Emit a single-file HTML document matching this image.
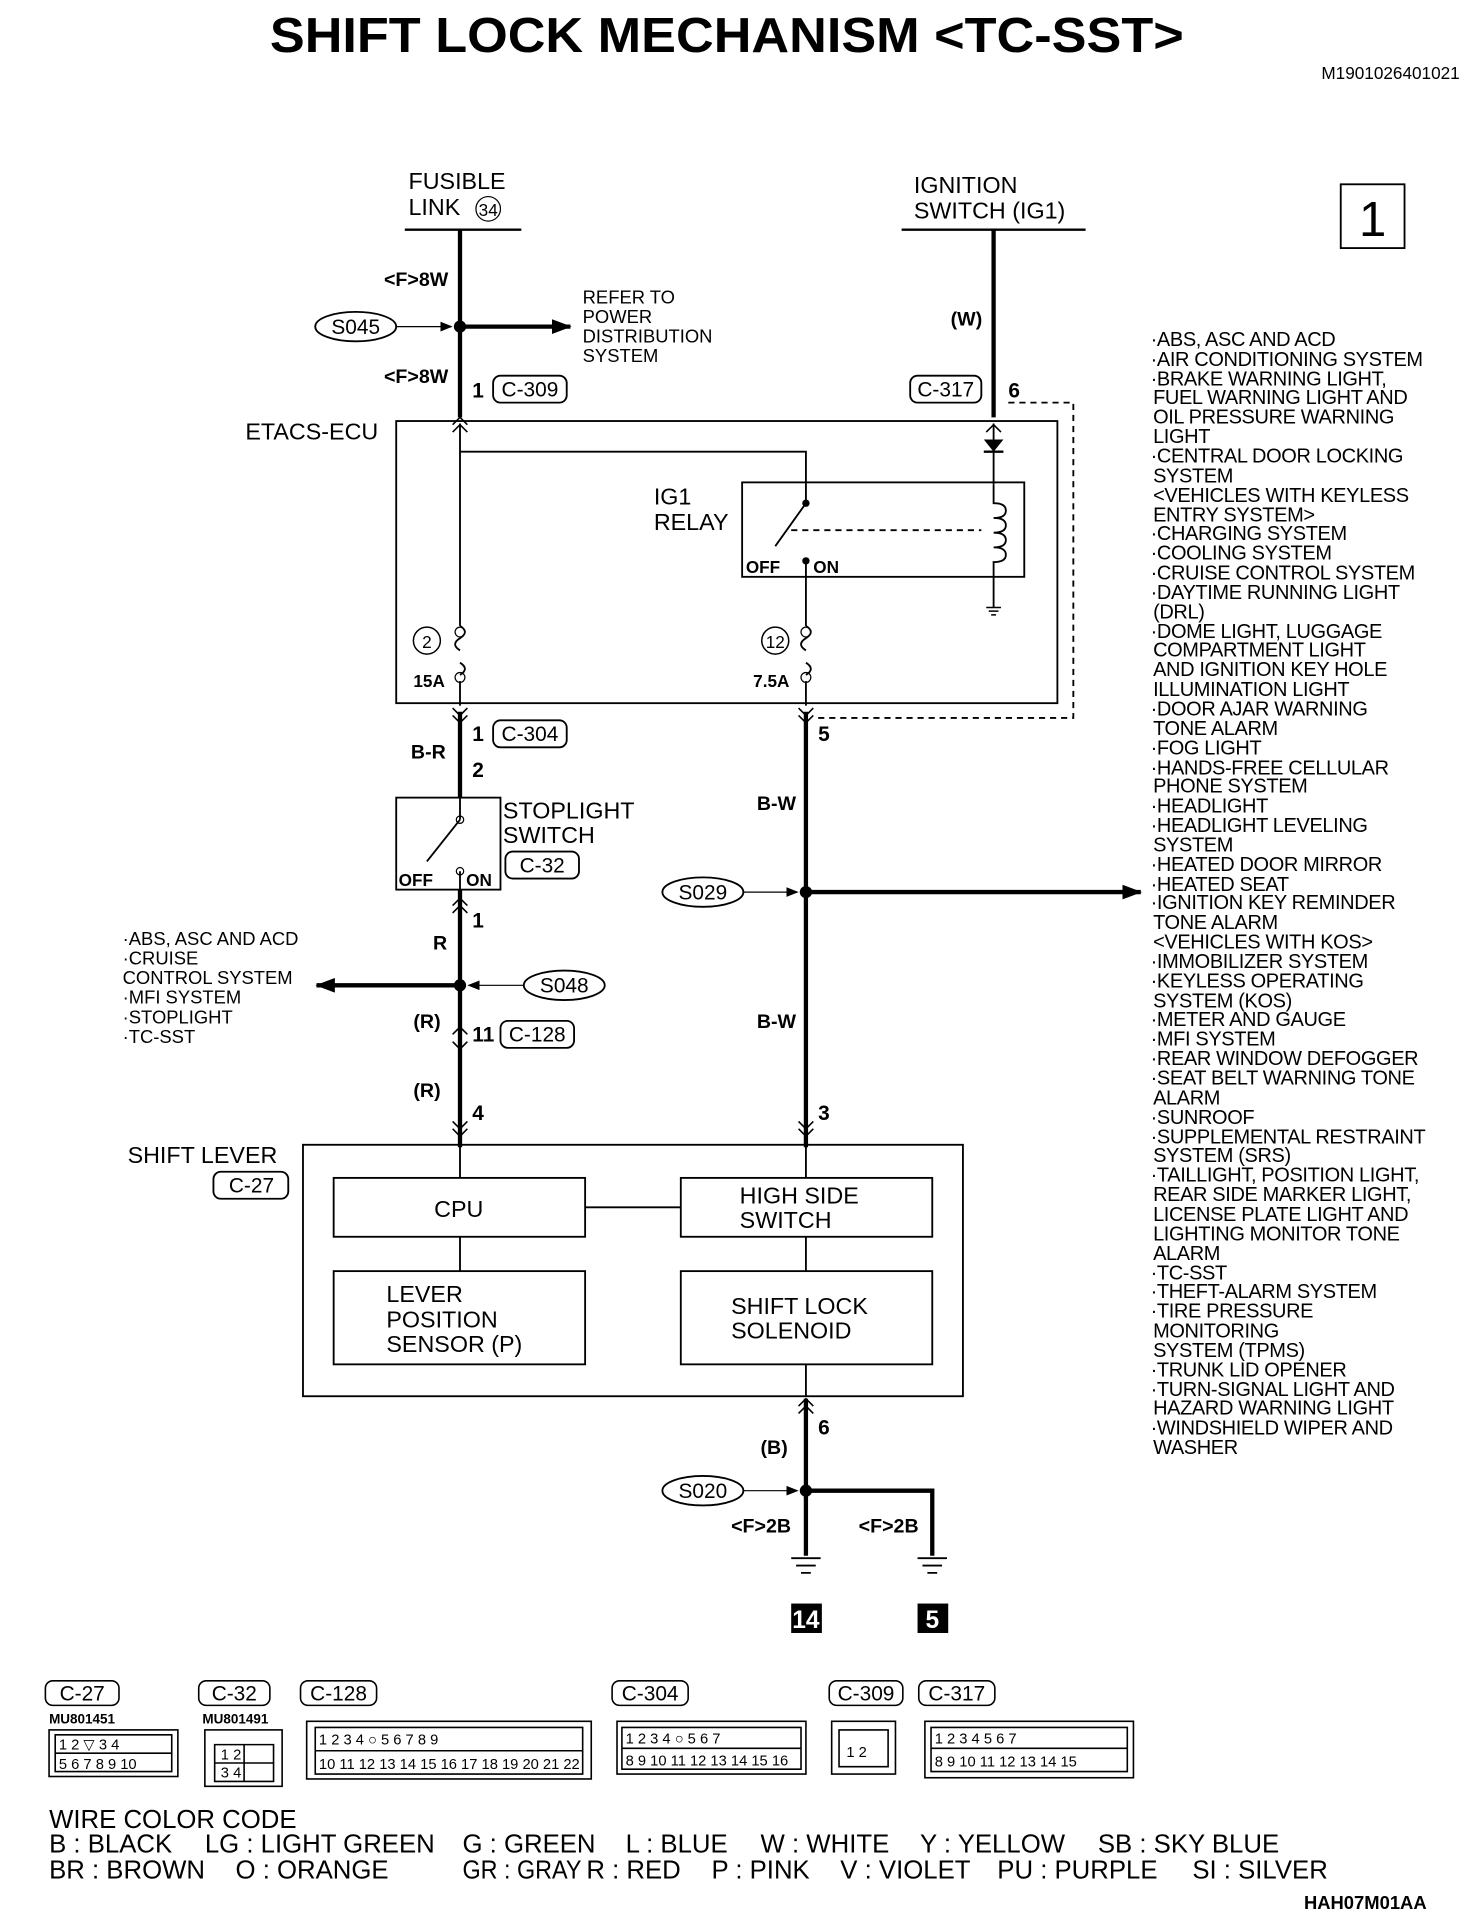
<!DOCTYPE html>
<html><head><meta charset="utf-8"><style>
html,body{margin:0;padding:0;background:#fff}
svg{display:block}
text{font-family:"Liberation Sans",sans-serif;fill:#000}
</style></head><body>
<svg width="1472" height="1924" viewBox="0 0 1200 1568" xmlns="http://www.w3.org/2000/svg">
<defs>
<marker id="ah" markerWidth="10" markerHeight="10" refX="9" refY="5" orient="auto" markerUnits="userSpaceOnUse"><path d="M0,1 L10,5 L0,9 z"/></marker>
<marker id="ahb" markerWidth="16" markerHeight="12" refX="15" refY="6" orient="auto" markerUnits="userSpaceOnUse"><path d="M0,0 L16,6 L0,12 z"/></marker>
</defs>
<text x="220" y="42" font-size="40" font-weight="bold" textLength="745" lengthAdjust="spacingAndGlyphs">SHIFT LOCK MECHANISM &lt;TC-SST&gt;</text>
<text x="1190" y="64" font-size="14" text-anchor="end">M1901026401021</text>
<rect x="1093" y="150" width="52" height="52" fill="none" stroke="#000" stroke-width="1.5"/>
<text x="1119" y="192" font-size="40" text-anchor="middle">1</text>

<g font-size="19">
<text x="333" y="154">FUSIBLE</text><text x="333" y="175">LINK</text>
<circle cx="398" cy="170" r="10" fill="none" stroke="#000"/><text x="398" y="176" font-size="14" text-anchor="middle">34</text>
<text x="745" y="157">IGNITION</text><text x="745" y="178">SWITCH (IG1)</text>
</g>
<line x1="330" y1="187" x2="425" y2="187" stroke="#000" stroke-width="2"/>
<line x1="735" y1="187" x2="885" y2="187" stroke="#000" stroke-width="2"/>

<g stroke="#000" fill="none">
<line x1="375" y1="187" x2="375" y2="340" stroke-width="3.5"/>
<line x1="375" y1="345" x2="375" y2="510" stroke-width="1.5"/>
<line x1="375" y1="555" x2="375" y2="575" stroke-width="1.5"/>
<line x1="375" y1="580" x2="375" y2="650" stroke-width="3.5"/>
<line x1="375" y1="725" x2="375" y2="935" stroke-width="3.5"/>
<line x1="375" y1="266" x2="465" y2="266" stroke-width="3.5" marker-end="url(#ahb)"/>
<line x1="375" y1="803" x2="258" y2="803" stroke-width="3.5" marker-end="url(#ahb)"/>
<line x1="810" y1="187" x2="810" y2="340" stroke-width="3.5"/>
<line x1="810" y1="345" x2="810" y2="395" stroke-width="1.5"/>
<line x1="810" y1="470" x2="810" y2="495" stroke-width="1.5"/>
<line x1="657" y1="580" x2="657" y2="935" stroke-width="3.5"/>
<line x1="657" y1="727" x2="930" y2="727" stroke-width="3.5" marker-end="url(#ahb)"/>
<line x1="657" y1="1140" x2="657" y2="1268" stroke-width="3.5"/>
<polyline points="657,1215 760,1215 760,1268" stroke-width="3.5"/>
<rect x="323" y="343" width="539" height="230" stroke-width="1.5"/>
<polyline points="375,368 657,368 657,408" stroke-width="1.5"/>
<line x1="657" y1="457" x2="657" y2="510" stroke-width="1.5"/>
<line x1="657" y1="555" x2="657" y2="575" stroke-width="1.5"/>
<rect x="605" y="393" width="230" height="77" stroke-width="1.5"/>
<line x1="657" y1="410" x2="632" y2="445" stroke-width="1.5"/>
<line x1="645" y1="432" x2="800" y2="432" stroke-width="1.5" stroke-dasharray="5,4"/>
<path d="M810,395 L810,410 q10,0 10,6 q0,6 -10,6 q10,0 10,6 q0,6 -10,6 q10,0 10,6 q0,6 -10,6 q10,0 10,6 q0,6 -10,6 L810,470" stroke-width="1.5"/>
<polyline points="822,328 875,328 875,585 665,585" stroke-width="1.5" stroke-dasharray="5,4"/>
<path d="M375,510 q8,5 0,10 q-8,5 0,10 M375,540 q8,5 0,10" stroke-width="1.5"/>
<path d="M657,510 q8,5 0,10 q-8,5 0,10 M657,540 q8,5 0,10" stroke-width="1.5"/>
<circle cx="375" cy="515" r="4"/><circle cx="375" cy="552" r="4"/>
<circle cx="657" cy="515" r="4"/><circle cx="657" cy="552" r="4"/>
<circle cx="348" cy="522" r="11" stroke-width="1.2"/><circle cx="632" cy="522" r="11" stroke-width="1.2"/>
<rect x="323" y="650" width="85" height="75" stroke-width="1.5"/>
<line x1="375" y1="650" x2="375" y2="668" stroke-width="1.5"/>
<line x1="375" y1="668" x2="348" y2="702" stroke-width="1.5"/>
<line x1="375" y1="710" x2="375" y2="725" stroke-width="1.5"/>
<circle cx="375" cy="668" r="3"/><circle cx="375" cy="710" r="3"/>
<rect x="247" y="933" width="538" height="205" stroke-width="1.5"/>
<rect x="272" y="960" width="205" height="48" stroke-width="1.5"/>
<rect x="555" y="960" width="205" height="48" stroke-width="1.5"/>
<rect x="272" y="1036" width="205" height="76" stroke-width="1.5"/>
<rect x="555" y="1036" width="205" height="76" stroke-width="1.5"/>
<line x1="477" y1="984" x2="555" y2="984" stroke-width="1.5"/>
<line x1="375" y1="1008" x2="375" y2="1036" stroke-width="1.5"/>
<line x1="657" y1="1008" x2="657" y2="1036" stroke-width="1.5"/>
<line x1="375" y1="933" x2="375" y2="960" stroke-width="1.5"/>
<line x1="657" y1="933" x2="657" y2="960" stroke-width="1.5"/>
<line x1="657" y1="1112" x2="657" y2="1138" stroke-width="1.5"/>
<path d="M369,352 l6,-6 l6,6 M369,346 l6,-6 l6,6" stroke-width="1.3"/>
<path d="M804,352 l6,-6 l6,6" stroke-width="1.3"/>
<path d="M369,577 l6,6 l6,-6 M369,583 l6,6 l6,-6" stroke-width="1.3"/>
<path d="M651,577 l6,6 l6,-6 M651,583 l6,6 l6,-6" stroke-width="1.3"/>
<path d="M369,744 l6,-6 l6,6 M369,738 l6,-6 l6,6" stroke-width="1.3"/>
<path d="M369,843 l6,-6 l6,6 M369,849 l6,6 l6,-6" stroke-width="1.3"/>
<path d="M369,920 l6,6 l6,-6 M369,914 l6,6 l6,-6" stroke-width="1.3"/>
<path d="M651,920 l6,6 l6,-6 M651,914 l6,6 l6,-6" stroke-width="1.3"/>
<path d="M651,1146 l6,-6 l6,6 M651,1152 l6,-6 l6,6" stroke-width="1.3"/>
<path d="M645,1270 h24 M649,1276 h16 M653,1282 h8" stroke-width="1.5"/>
<path d="M748,1270 h24 M752,1276 h16 M756,1282 h8" stroke-width="1.5"/>
<path d="M804,495 h12 M806,498 h8 M808,501 h4" stroke-width="1.2"/>
<line x1="323" y1="266" x2="368" y2="266" stroke-width="1" marker-end="url(#ah)"/>
<line x1="427" y1="803" x2="382" y2="803" stroke-width="1" marker-end="url(#ah)"/>
<line x1="606" y1="727" x2="650" y2="727" stroke-width="1" marker-end="url(#ah)"/>
<line x1="606" y1="1215" x2="650" y2="1215" stroke-width="1" marker-end="url(#ah)"/>
<ellipse cx="290" cy="266" rx="33" ry="12" stroke-width="1.5"/>
<ellipse cx="460" cy="803" rx="33" ry="12" stroke-width="1.5"/>
<ellipse cx="573" cy="727" rx="33" ry="12" stroke-width="1.5"/>
<ellipse cx="573" cy="1215" rx="33" ry="12" stroke-width="1.5"/>
<rect x="402" y="306" width="60" height="22" rx="6" stroke-width="1.5"/>
<rect x="742" y="306" width="58" height="22" rx="6" stroke-width="1.5"/>
<rect x="402" y="587" width="60" height="22" rx="6" stroke-width="1.5"/>
<rect x="412" y="694" width="60" height="22" rx="6" stroke-width="1.5"/>
<rect x="408" y="832" width="60" height="22" rx="6" stroke-width="1.5"/>
<rect x="174" y="955" width="61" height="22" rx="6" stroke-width="1.5"/>
</g>
<path d="M802,358 h16 l-8,10 z"/><line x1="802" y1="368" x2="818" y2="368" stroke="#000" stroke-width="2"/>
<circle cx="375" cy="266" r="5"/><circle cx="375" cy="803" r="5"/><circle cx="657" cy="727" r="5"/><circle cx="657" cy="1215" r="5"/>
<circle cx="657" cy="410" r="3"/><circle cx="657" cy="457" r="3"/>

<g font-size="16" font-weight="bold">
<text x="313" y="233">&lt;F&gt;8W</text>
<text x="313" y="312">&lt;F&gt;8W</text>
<text x="775" y="265">(W)</text>
<text x="335" y="618">B-R</text>
<text x="617" y="660">B-W</text>
<text x="353" y="774">R</text>
<text x="337" y="838">(R)</text>
<text x="337" y="894">(R)</text>
<text x="617" y="838">B-W</text>
<text x="620" y="1185">(B)</text>
<text x="596" y="1249">&lt;F&gt;2B</text>
<text x="700" y="1249">&lt;F&gt;2B</text>
<text x="337" y="560" font-size="14">15A</text>
<text x="614" y="560" font-size="14">7.5A</text>
<text x="608" y="467" font-size="14">OFF</text>
<text x="663" y="467" font-size="14">ON</text>
<text x="325" y="722" font-size="14">OFF</text>
<text x="380" y="722" font-size="14">ON</text>
</g>
<g font-size="17" font-weight="bold">
<text x="385" y="324">1</text><text x="822" y="324">6</text>
<text x="385" y="604">1</text><text x="385" y="633">2</text><text x="667" y="604">5</text>
<text x="385" y="756">1</text><text x="385" y="849">11</text>
<text x="385" y="913">4</text><text x="667" y="913">3</text><text x="667" y="1169">6</text>
<text x="348" y="528" font-size="14" text-anchor="middle" font-weight="normal">2</text>
<text x="632" y="528" font-size="14" text-anchor="middle" font-weight="normal">12</text>
</g>
<g font-size="17" text-anchor="middle">
<text x="432" y="323">C-309</text><text x="771" y="323">C-317</text>
<text x="432" y="604">C-304</text><text x="442" y="711">C-32</text>
<text x="438" y="849">C-128</text><text x="205" y="972">C-27</text>
<text x="290" y="272">S045</text><text x="460" y="809">S048</text>
<text x="573" y="733">S029</text><text x="573" y="1221">S020</text>
</g>
<g font-size="15">
<text x="475" y="247">REFER TO</text><text x="475" y="263">POWER</text><text x="475" y="279">DISTRIBUTION</text><text x="475" y="295">SYSTEM</text>
<text x="100" y="770">·ABS, ASC AND ACD</text><text x="100" y="786">·CRUISE</text><text x="100" y="802">CONTROL SYSTEM</text><text x="100" y="818">·MFI SYSTEM</text><text x="100" y="834">·STOPLIGHT</text><text x="100" y="850">·TC-SST</text>
</g>
<g font-size="19">
<text x="200" y="358">ETACS-ECU</text>
<text x="533" y="411">IG1</text><text x="533" y="432">RELAY</text>
<text x="410" y="667">STOPLIGHT</text><text x="410" y="687">SWITCH</text>
<text x="104" y="948">SHIFT LEVER</text>
<text x="374" y="992" text-anchor="middle">CPU</text>
<text x="603" y="981">HIGH SIDE</text><text x="603" y="1001">SWITCH</text>
<text x="315" y="1061">LEVER</text><text x="315" y="1082">POSITION</text><text x="315" y="1102">SENSOR (P)</text>
<text x="596" y="1071">SHIFT LOCK</text><text x="596" y="1091">SOLENOID</text>
</g>
<rect x="645" y="1307" width="25" height="24"/><text x="657" y="1327" font-size="20" font-weight="bold" style="fill:#fff" text-anchor="middle">14</text>
<rect x="748" y="1307" width="25" height="24"/><text x="760" y="1327" font-size="20" font-weight="bold" style="fill:#fff" text-anchor="middle">5</text>

<g font-size="16.3" letter-spacing="-0.3">
<text x="938" y="282">·ABS, ASC AND ACD</text>
<text x="938" y="298">·AIR CONDITIONING SYSTEM</text>
<text x="938" y="314">·BRAKE WARNING LIGHT,</text>
<text x="940" y="329">FUEL WARNING LIGHT AND</text>
<text x="940" y="345">OIL PRESSURE WARNING</text>
<text x="940" y="361">LIGHT</text>
<text x="938" y="377">·CENTRAL DOOR LOCKING</text>
<text x="940" y="393">SYSTEM</text>
<text x="940" y="409">&lt;VEHICLES WITH KEYLESS</text>
<text x="940" y="425">ENTRY SYSTEM&gt;</text>
<text x="938" y="440">·CHARGING SYSTEM</text>
<text x="938" y="456">·COOLING SYSTEM</text>
<text x="938" y="472">·CRUISE CONTROL SYSTEM</text>
<text x="938" y="488">·DAYTIME RUNNING LIGHT</text>
<text x="940" y="504">(DRL)</text>
<text x="938" y="520">·DOME LIGHT, LUGGAGE</text>
<text x="940" y="535">COMPARTMENT LIGHT</text>
<text x="940" y="551">AND IGNITION KEY HOLE</text>
<text x="940" y="567">ILLUMINATION LIGHT</text>
<text x="938" y="583">·DOOR AJAR WARNING</text>
<text x="940" y="599">TONE ALARM</text>
<text x="938" y="615">·FOG LIGHT</text>
<text x="938" y="631">·HANDS-FREE CELLULAR</text>
<text x="940" y="646">PHONE SYSTEM</text>
<text x="938" y="662">·HEADLIGHT</text>
<text x="938" y="678">·HEADLIGHT LEVELING</text>
<text x="940" y="694">SYSTEM</text>
<text x="938" y="710">·HEATED DOOR MIRROR</text>
<text x="938" y="726">·HEATED SEAT</text>
<text x="938" y="741">·IGNITION KEY REMINDER</text>
<text x="940" y="757">TONE ALARM</text>
<text x="940" y="773">&lt;VEHICLES WITH KOS&gt;</text>
<text x="938" y="789">·IMMOBILIZER SYSTEM</text>
<text x="938" y="805">·KEYLESS OPERATING</text>
<text x="940" y="821">SYSTEM (KOS)</text>
<text x="938" y="836">·METER AND GAUGE</text>
<text x="938" y="852">·MFI SYSTEM</text>
<text x="938" y="868">·REAR WINDOW DEFOGGER</text>
<text x="938" y="884">·SEAT BELT WARNING TONE</text>
<text x="940" y="900">ALARM</text>
<text x="938" y="916">·SUNROOF</text>
<text x="938" y="932">·SUPPLEMENTAL RESTRAINT</text>
<text x="940" y="947">SYSTEM (SRS)</text>
<text x="938" y="963">·TAILLIGHT, POSITION LIGHT,</text>
<text x="940" y="979">REAR SIDE MARKER LIGHT,</text>
<text x="940" y="995">LICENSE PLATE LIGHT AND</text>
<text x="940" y="1011">LIGHTING MONITOR TONE</text>
<text x="940" y="1027">ALARM</text>
<text x="938" y="1043">·TC-SST</text>
<text x="938" y="1058">·THEFT-ALARM SYSTEM</text>
<text x="938" y="1074">·TIRE PRESSURE</text>
<text x="940" y="1090">MONITORING</text>
<text x="940" y="1106">SYSTEM (TPMS)</text>
<text x="938" y="1122">·TRUNK LID OPENER</text>
<text x="938" y="1138">·TURN-SIGNAL LIGHT AND</text>
<text x="940" y="1153">HAZARD WARNING LIGHT</text>
<text x="938" y="1169">·WINDSHIELD WIPER AND</text>
<text x="940" y="1185">WASHER</text>
</g>

<g stroke="#000" fill="none" stroke-width="1.3">
<rect x="37" y="1370" width="60" height="20" rx="6"/>
<rect x="162" y="1370" width="58" height="20" rx="6"/>
<rect x="245" y="1370" width="62" height="20" rx="6"/>
<rect x="499" y="1370" width="62" height="20" rx="6"/>
<rect x="676" y="1370" width="60" height="20" rx="6"/>
<rect x="749" y="1370" width="62" height="20" rx="6"/>
<rect x="40" y="1410" width="105" height="38"/>
<rect x="167" y="1410" width="63" height="46"/>
<rect x="250" y="1403" width="232" height="47"/>
<rect x="503" y="1403" width="154" height="43"/>
<rect x="678" y="1403" width="52" height="43"/>
<rect x="754" y="1403" width="170" height="46"/>
<path d="M45,1414 h95 v30 h-95z M45,1429 h95"/>
<path d="M175,1422 h48 v30 h-48z M199,1422 v30 M175,1437 h48"/>
<path d="M257,1408 h218 v38 h-218z M257,1427 h218"/>
<path d="M507,1408 h146 v34 h-146z M507,1425 h146"/>
<path d="M684,1410 h40 v30 h-40z"/>
<path d="M759,1408 h160 v36 h-160z M759,1425 h160"/>
</g>
<g font-size="17" text-anchor="middle">
<text x="67" y="1386">C-27</text><text x="191" y="1386">C-32</text><text x="276" y="1386">C-128</text>
<text x="530" y="1386">C-304</text><text x="706" y="1386">C-309</text><text x="780" y="1386">C-317</text>
</g>
<g font-size="11" font-weight="bold"><text x="40" y="1405">MU801451</text><text x="165" y="1405">MU801491</text></g>
<g font-size="12">
<text x="48" y="1426">1 2 ▽ 3 4</text><text x="48" y="1442">5 6 7 8 9 10</text>
<text x="180" y="1434">1   2</text><text x="180" y="1449">3   4</text>
<text x="260" y="1422">1 2 3 4 ○ 5 6 7 8 9</text><text x="260" y="1442">10 11 12 13 14 15 16 17 18 19 20 21 22</text>
<text x="510" y="1421">1 2 3 4 ○ 5 6 7</text><text x="510" y="1439">8 9 10 11 12 13 14 15 16</text>
<text x="690" y="1432">1  2</text>
<text x="762" y="1421">1 2 3 4 5 6 7</text><text x="762" y="1440">8 9 10 11 12 13 14 15</text>
</g>

<g font-size="21">
<text x="40" y="1490">WIRE COLOR CODE</text>
<text x="40" y="1510">B : BLACK</text><text x="167" y="1510">LG : LIGHT GREEN</text><text x="377" y="1510">G : GREEN</text><text x="510" y="1510">L : BLUE</text><text x="620" y="1510">W : WHITE</text><text x="750" y="1510">Y : YELLOW</text><text x="895" y="1510">SB : SKY BLUE</text>
<text x="40" y="1531">BR : BROWN</text><text x="192" y="1531">O : ORANGE</text><text x="377" y="1531" textLength="97" lengthAdjust="spacingAndGlyphs">GR : GRAY</text><text x="478" y="1531">R : RED</text><text x="580" y="1531">P : PINK</text><text x="685" y="1531">V : VIOLET</text><text x="813" y="1531">PU : PURPLE</text><text x="972" y="1531">SI : SILVER</text>
</g>
<text x="1163" y="1556" font-size="15" font-weight="bold" text-anchor="end">HAH07M01AA</text>
</svg>
</body></html>
